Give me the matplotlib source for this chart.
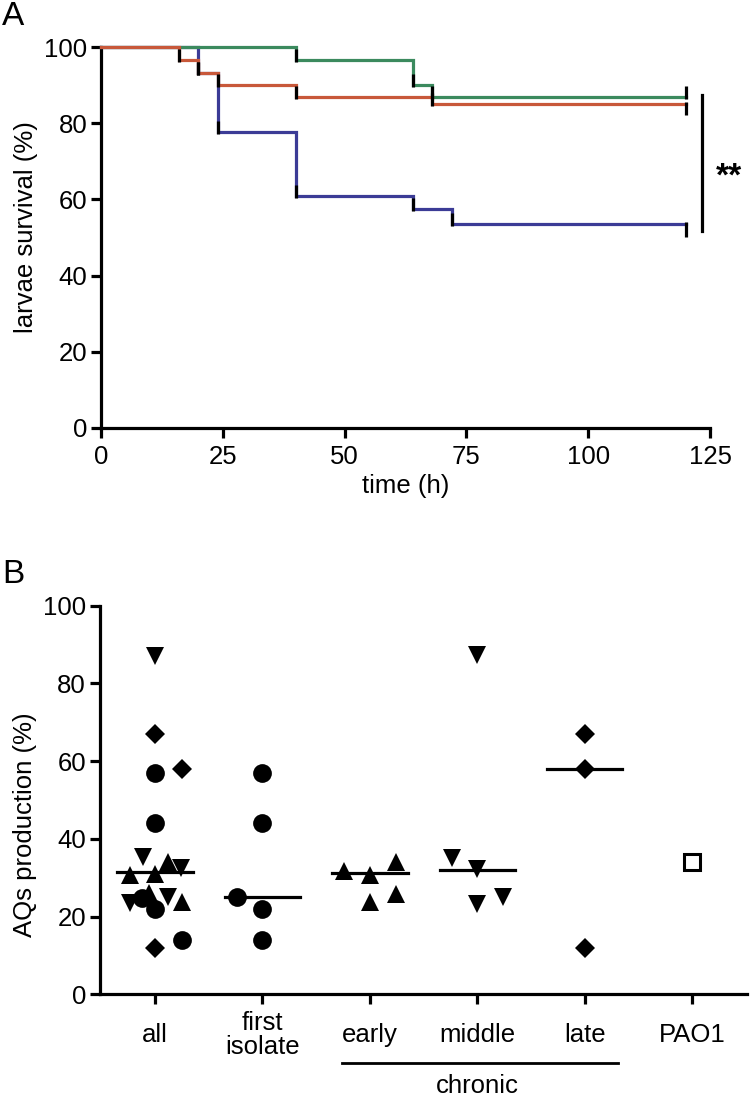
import numpy as np
import matplotlib
matplotlib.use("Agg")
import matplotlib.pyplot as plt

plt.rcParams["font.family"] = ["Liberation Sans", "DejaVu Sans"]

# ---- panel A: survival curves
time_blue = [0, 20, 24, 40, 64, 72, 120]
surv_blue = [100, 93.3, 77.8, 61.0, 57.6, 53.6, 53.6]
time_green = [0, 40, 64, 68, 120]
surv_green = [100, 96.7, 90.0, 87.0, 87.0]
time_red = [0, 16, 20, 24, 40, 68, 120]
surv_red = [100, 96.7, 93.3, 90.0, 87.0, 85.0, 85.0]

sig_x = 123.4
sig_span = [51.7, 87.4]
sig_text = "**"

# ---- panel B: AQs production per group
group_labels = ["all", "first\nisolate", "early", "middle", "late", "PAO1"]

all_values = [57.0, 44.0, 24.7, 21.9, 14.0,
              66.9, 57.9, 11.8,
              87.0, 35.4, 32.5, 23.4, 25.1,
              34.1, 30.7, 30.9, 26.1, 23.8]
all_markers = ["o"] * 5 + ["D"] * 3 + ["v"] * 5 + ["^"] * 5
first_values = [57.0, 44.0, 25.0, 21.9, 14.0]
early_values = [31.8, 30.7, 34.0, 23.8, 25.8]
middle_values = [87.3, 35.2, 32.2, 23.2, 25.1]
late_values = [66.9, 57.9, 11.8]
pao1_values = [34.1]
medians = [31.4, 25.0, 31.1, 32.0, 57.9]

# horizontal scatter offsets (layout only)
all_offsets = [0, 0, -0.12, 0, 0.25,
               0, 0.25, 0,
               0, -0.11, 0.24, -0.23, 0.125,
               0.125, -0.23, 0, -0.06, 0.25]
first_offsets = [0, 0, -0.24, 0, 0]
early_offsets = [-0.24, 0, 0.24, 0, 0.24]
middle_offsets = [0, -0.24, 0, 0, 0.24]
late_offsets = [0, 0, 0]

c_blue = "#3b3b96"
c_green = "#3b8a5e"
c_red = "#c8583a"
lw_axis = 2.3
fs = 18.5

fig = plt.figure(figsize=(7.5, 11.01), dpi=100)

# ================= panel A
axA = fig.add_axes([0.1347, 0.6113, 0.812, 0.346])
series = [(time_blue, surv_blue, c_blue, (0.4, -3.6)),
          (time_green, surv_green, c_green, (2.7, -0.6)),
          (time_red, surv_red, c_red, (0.6, -2.8))]
for t, s, col, end_tick in series:
    axA.step(t, s, where="post", color=col, lw=2.3, clip_on=False, zorder=3,
             solid_joinstyle="miter")
for t, s, col, end_tick in series:
    for i in range(1, len(t)):
        if s[i] < s[i - 1]:
            axA.plot([t[i], t[i]], [s[i] - 0.6, s[i] + 2.8], color="black",
                     lw=2.3, solid_capstyle="butt", zorder=4)
    axA.plot([t[-1], t[-1]], [s[-1] + end_tick[0], s[-1] + end_tick[1]],
             color="black", lw=2.3, solid_capstyle="butt", zorder=4, clip_on=False)

axA.plot([sig_x, sig_x], sig_span, color="black", lw=2.3, clip_on=False)
axA.text(128.9, 63.5, sig_text, fontsize=24, fontweight="bold", ha="center",
         va="baseline", clip_on=False)

axA.set_xlim(0, 125)
axA.set_ylim(0, 100)
axA.set_xticks([0, 25, 50, 75, 100, 125])
axA.set_yticks([0, 20, 40, 60, 80, 100])
axA.set_xlabel("time (h)", fontsize=fs, labelpad=4)

# ================= panel B
axB = fig.add_axes([0.1333, 0.0969, 0.8627, 0.3529])
mk_size = {"o": 13.5, "D": 10.5, "v": 13, "^": 13}
for v, m, off in zip(all_values, all_markers, all_offsets):
    axB.plot(0 + off, v, marker=m, ms=mk_size[m], color="black", mew=0, ls="none")
for v, off in zip(first_values, first_offsets):
    axB.plot(1 + off, v, marker="o", ms=mk_size["o"], color="black", mew=0, ls="none")
for v, off in zip(early_values, early_offsets):
    axB.plot(2 + off, v, marker="^", ms=mk_size["^"], color="black", mew=0, ls="none")
for v, off in zip(middle_values, middle_offsets):
    axB.plot(3 + off, v, marker="v", ms=mk_size["v"], color="black", mew=0, ls="none")
for v, off in zip(late_values, late_offsets):
    axB.plot(4 + off, v, marker="D", ms=mk_size["D"], color="black", mew=0, ls="none")
axB.plot([5] * len(pao1_values), pao1_values, marker="s", ms=12, mfc="white",
         mec="black", mew=2.2, ls="none")

for i, med in enumerate(medians):
    axB.plot([i - 0.35, i + 0.35], [med, med], color="black", lw=2.3, zorder=1)

axB.set_xlim(-0.512, 5.509)
axB.set_ylim(0, 100)
axB.set_yticks([0, 20, 40, 60, 80, 100])
axB.set_xticks(range(len(group_labels)))
axB.set_xticklabels(group_labels, linespacing=1.0)
for lbl in axB.get_xticklabels():
    lbl.set_va("center")

trans = axB.get_xaxis_transform()
axB.plot([1.74, 4.31], [-0.177, -0.177], color="black", lw=2.0, transform=trans,
         clip_on=False)
axB.text(3.0, -0.236, "chronic", fontsize=fs, ha="center", va="center",
         transform=trans)

for ax in (axA, axB):
    for side in ("top", "right"):
        ax.spines[side].set_visible(False)
    for side in ("left", "bottom"):
        ax.spines[side].set_linewidth(lw_axis)
    ax.tick_params(direction="out", length=7, width=lw_axis, labelsize=fs, pad=3)
axA.tick_params(axis="x", pad=5)
axB.tick_params(axis="x", pad=22)

fig.text(0.0347, 0.7938, "larvae survival (%)", fontsize=fs, rotation=90,
         ha="center", va="center")
fig.text(0.0333, 0.2507, "AQs production (%)", fontsize=fs, rotation=90,
         ha="center", va="center")
fig.text(0.003, 0.999, "A", fontsize=24, ha="left", va="top")
fig.text(0.003, 0.492, "B", fontsize=24, ha="left", va="top")

fig.savefig("out.png", dpi=100)
